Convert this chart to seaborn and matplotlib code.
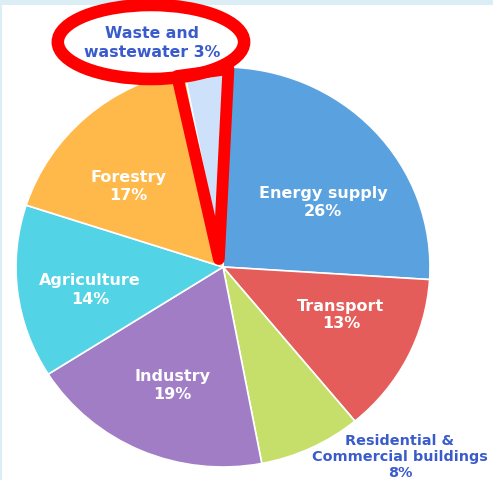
import numpy as np
import matplotlib
matplotlib.use("Agg")
import matplotlib.pyplot as plt
import seaborn as sns
from matplotlib.patches import Ellipse, Polygon, Rectangle

sns.set_theme(style="white")
plt.rcParams['font.family'] = ['DejaVu Sans']

# dados (sentido horário a partir do topo)
sectors = ["Energy supply", "Transport", "Residential &\nCommercial buildings",
           "Industry", "Agriculture", "Forestry", "Waste and\nwastewater"]
shares = [26, 13, 8, 19, 14, 17, 3]
colors = ["#5AA2DF", "#E45D5A", "#C6DF6B", "#A17DC6", "#53D3E6", "#FFB94B", "#CDE1FB"]

# posição dos rótulos (unidades do raio)
label_xy = [(0.483, 0.325), (0.570, -0.235), (0.855, -0.945), (-0.246, -0.59),
            (-0.643, -0.11), (-0.459, 0.405), (-0.343, 1.125)]
inside = [True, True, False, True, True, True, False]

fig = plt.figure(figsize=(4.93, 4.81), dpi=100)
fig.patch.set_facecolor("#DCEEF5")
fig.patches.append(Rectangle((2 / 493, 0), 1, 475 / 481, transform=fig.transFigure,
                             facecolor="white", edgecolor="none", zorder=-10))

ax = fig.add_axes([0, 0, 1, 1])
ax.set_facecolor("none")

wedges, _ = ax.pie(shares, colors=colors, startangle=90, counterclock=False,
                   radius=1.0, wedgeprops=dict(edgecolor="white", linewidth=1.2))

# a pizza original é levemente achatada na vertical
Rx, Ry = 207, 200
ax.set_aspect("auto")
ax.set_xlim(-223 / Rx, (493 - 223) / Rx)
ax.set_ylim(-(481 - 268) / Ry, 268 / Ry)
ax.axis("off")

for name, val, (x, y), ins in zip(sectors, shares, label_xy, inside):
    if ins:
        ax.text(x, y, f"{name}\n{val}%", ha="center", va="center", color="white",
                fontsize=11.5, fontweight="bold", linespacing=1.25)
    elif "Waste" in name:
        ax.text(x, y, f"{name} {val}%", ha="center", va="center",
                color="#3A5BCB", fontsize=11.3, fontweight="bold", linespacing=1.4)
    else:
        ax.text(x, y, f"{name}\n{val}%", ha="center", va="center", color="#3A5BCB",
                fontsize=10.4, fontweight="bold", linespacing=1.15)

# destaque vermelho: fatia de resíduos
w = wedges[-1]
t1, t2 = np.deg2rad(w.theta1 - 1.5), np.deg2rad(w.theta2 + 2.0)
tri = [(-0.02, 0.04), (np.cos(t1), np.sin(t1) - 0.01), (np.cos(t2), np.sin(t2) - 0.02)]
ax.add_patch(Polygon(tri, closed=True, fill=False, edgecolor="#FF0000",
                     linewidth=8.5, joinstyle="round", zorder=5))
ax.add_patch(Ellipse((-0.348, 1.125), 0.9, 0.37, fill=False, edgecolor="#FF0000",
                     linewidth=9, zorder=5))

fig.savefig("out.png", dpi=100, facecolor=fig.get_facecolor())
